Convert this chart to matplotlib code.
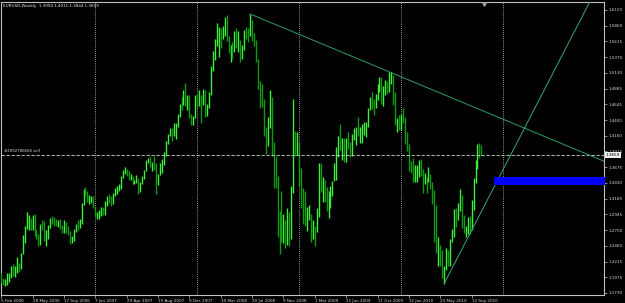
import matplotlib
matplotlib.use("Agg")
import matplotlib.pyplot as plt
import matplotlib.transforms as mtransforms
import numpy as np
import pandas as pd

# ---------------- data ----------------
symbol_title = "EURUSD,Weekly  1.3994 1.4011 1.3844 1.3859"
first_week = "2006-02-05"

highs = [
    # 2006
    1.2040, 1.1960, 1.1950, 1.2040, 1.2040, 1.2150, 1.2180, 1.2150, 1.2290, 1.2200,
    1.2350, 1.2630, 1.2760, 1.2980, 1.2940, 1.2890, 1.2940, 1.2950, 1.2700, 1.2640,
    1.2800, 1.2860, 1.2840, 1.2700, 1.2780, 1.2890, 1.2920, 1.2900, 1.2880, 1.2860,
    1.2870, 1.2780, 1.2860, 1.2820, 1.2770, 1.2690, 1.2610, 1.2720, 1.2800, 1.2860,
    1.2880, 1.3120, 1.3330, 1.3370, 1.3300, 1.3240, 1.3230, 1.3220,
    # 2007
    1.3080, 1.2980, 1.3010, 1.3060, 1.3060, 1.3150, 1.3230, 1.3260, 1.3220, 1.3270,
    1.3350, 1.3380, 1.3410, 1.3530, 1.3630, 1.3680, 1.3640, 1.3620, 1.3570, 1.3530,
    1.3480, 1.3550, 1.3510, 1.3450, 1.3530, 1.3630, 1.3790, 1.3810, 1.3850, 1.3760,
    1.3850, 1.3740, 1.3560, 1.3740, 1.3800, 1.3900, 1.4070, 1.4190, 1.4280, 1.4280,
    1.4350, 1.4350, 1.4500, 1.4650, 1.4750, 1.4870, 1.4970, 1.4780, 1.4780, 1.4500,
    1.4460, 1.4780,
    # 2008
    1.4800, 1.4860, 1.4780, 1.4880, 1.4860, 1.4650, 1.4830, 1.5240, 1.5460, 1.5650,
    1.5900, 1.5830, 1.5820, 1.5860, 1.5990, 1.6020, 1.5700, 1.5560, 1.5600, 1.5780,
    1.5820, 1.5770, 1.5640, 1.5560, 1.5790, 1.5840, 1.5820, 1.6038, 1.5950, 1.5740,
    1.5640, 1.5350, 1.5010, 1.4960, 1.4730, 1.4290, 1.4450, 1.4870, 1.4750, 1.4060,
    1.3850, 1.3530, 1.3000, 1.3300, 1.2950, 1.2860, 1.3040, 1.2980, 1.3380, 1.4719,
    1.4230, 1.4220,
    # 2009
    1.4060, 1.3660, 1.3350, 1.3300, 1.3060, 1.3090, 1.2950, 1.2850, 1.2770, 1.3050,
    1.3740, 1.3740, 1.3520, 1.3480, 1.3370, 1.3300, 1.3380, 1.3460, 1.3740, 1.3980,
    1.4160, 1.4340, 1.4120, 1.4120, 1.4130, 1.4220, 1.4060, 1.4180, 1.4280, 1.4300,
    1.4440, 1.4300, 1.4340, 1.4370, 1.4370, 1.4580, 1.4750, 1.4840, 1.4720, 1.4810,
    1.4960, 1.5060, 1.5060, 1.4930, 1.5020, 1.5010, 1.5144, 1.5140, 1.5100, 1.4830,
    1.4430, 1.4480,
    # 2010
    1.4490, 1.4580, 1.4450, 1.4210, 1.4030, 1.3770, 1.3820, 1.3700, 1.3700, 1.3780,
    1.3800, 1.3640, 1.3580, 1.3520, 1.3680, 1.3560, 1.3440, 1.3320, 1.3090, 1.2600,
    1.2470, 1.2400, 1.2140, 1.2420, 1.2390, 1.2570, 1.2720, 1.3030, 1.3050, 1.3120,
    1.3330, 1.3240, 1.2930, 1.2760, 1.2900, 1.2920, 1.3160, 1.3500, 1.3790, 1.4030,
    1.4040, 1.4011,
]

lows = [
    # 2006
    1.1880, 1.1860, 1.1840, 1.1850, 1.1900, 1.1960, 1.2000, 1.1980, 1.2040, 1.2060,
    1.2100, 1.2330, 1.2500, 1.2720, 1.2700, 1.2710, 1.2700, 1.2610, 1.2560, 1.2460,
    1.2470, 1.2710, 1.2530, 1.2460, 1.2570, 1.2730, 1.2790, 1.2770, 1.2760, 1.2750,
    1.2720, 1.2650, 1.2660, 1.2650, 1.2620, 1.2480, 1.2500, 1.2540, 1.2670, 1.2700,
    1.2740, 1.2800, 1.3090, 1.3220, 1.3130, 1.3100, 1.3120, 1.3040,
    # 2007
    1.2920, 1.2880, 1.2866, 1.2920, 1.2930, 1.2940, 1.3080, 1.3120, 1.3070, 1.3100,
    1.3230, 1.3260, 1.3300, 1.3340, 1.3500, 1.3570, 1.3530, 1.3470, 1.3480, 1.3410,
    1.3410, 1.3430, 1.3260, 1.3290, 1.3420, 1.3490, 1.3610, 1.3730, 1.3680, 1.3620,
    1.3630, 1.3260, 1.3390, 1.3550, 1.3590, 1.3700, 1.3840, 1.4030, 1.4150, 1.4070,
    1.4150, 1.4110, 1.4300, 1.4450, 1.4560, 1.4630, 1.4620, 1.4550, 1.4430, 1.4320,
    1.4320, 1.4430,
    # 2008
    1.4580, 1.4620, 1.4360, 1.4630, 1.4450, 1.4460, 1.4580, 1.4780, 1.5150, 1.5330,
    1.5550, 1.5370, 1.5520, 1.5650, 1.5700, 1.5620, 1.5440, 1.5290, 1.5350, 1.5450,
    1.5510, 1.5450, 1.5300, 1.5340, 1.5480, 1.5650, 1.5610, 1.5700, 1.5620, 1.5540,
    1.5300, 1.4880, 1.4580, 1.4600, 1.4150, 1.3880, 1.4000, 1.4280, 1.3850, 1.3350,
    1.3350, 1.2600, 1.2330, 1.2520, 1.2500, 1.2420, 1.2470, 1.2460, 1.2560, 1.3280,
    1.3840, 1.3860,
    # 2009
    1.3380, 1.3050, 1.2800, 1.2760, 1.2680, 1.2850, 1.2510, 1.2570, 1.2460, 1.2670,
    1.2910, 1.3290, 1.3130, 1.3130, 1.3000, 1.2890, 1.3040, 1.3220, 1.3460, 1.3470,
    1.3830, 1.3940, 1.3780, 1.3750, 1.3750, 1.3950, 1.3830, 1.3840, 1.4090, 1.4010,
    1.4150, 1.4040, 1.4040, 1.4170, 1.4140, 1.4300, 1.4550, 1.4570, 1.4480, 1.4580,
    1.4710, 1.4840, 1.4650, 1.4620, 1.4780, 1.4810, 1.4830, 1.4950, 1.4640, 1.4320,
    1.4220, 1.4240,
    # 2010
    1.4250, 1.4350, 1.4030, 1.3930, 1.3620, 1.3580, 1.3440, 1.3450, 1.3440, 1.3520,
    1.3530, 1.3270, 1.3410, 1.3270, 1.3450, 1.3330, 1.3110, 1.2520, 1.2350, 1.2140,
    1.2150, 1.1960, 1.1876, 1.2080, 1.2150, 1.2150, 1.2510, 1.2600, 1.2750, 1.2850,
    1.3000, 1.2740, 1.2660, 1.2588, 1.2640, 1.2640, 1.2700, 1.3010, 1.3430, 1.3650,
    1.3810, 1.3844,
]

closes = [
    # 2006
    1.1920, 1.1895, 1.1910, 1.1930, 1.2030, 1.2130, 1.2040, 1.2115, 1.2150, 1.2110,
    1.2340, 1.2530, 1.2740, 1.2830, 1.2890, 1.2760, 1.2885, 1.2620, 1.2600, 1.2560,
    1.2780, 1.2760, 1.2630, 1.2630, 1.2750, 1.2880, 1.2850, 1.2820, 1.2790, 1.2815,
    1.2765, 1.2690, 1.2820, 1.2680, 1.2670, 1.2525, 1.2580, 1.2700, 1.2775, 1.2760,
    1.2830, 1.3090, 1.3325, 1.3300, 1.3140, 1.3155, 1.3200, 1.3070,
    # 2007
    1.2940, 1.2940, 1.2980, 1.3030, 1.2950, 1.3130, 1.3210, 1.3170, 1.3120, 1.3250,
    1.3330, 1.3360, 1.3390, 1.3520, 1.3620, 1.3620, 1.3550, 1.3500, 1.3530, 1.3450,
    1.3450, 1.3505, 1.3300, 1.3435, 1.3500, 1.3620, 1.3780, 1.3810, 1.3690, 1.3760,
    1.3720, 1.3430, 1.3500, 1.3620, 1.3710, 1.3880, 1.4060, 1.4180, 1.4270, 1.4170,
    1.4310, 1.4320, 1.4480, 1.4640, 1.4630, 1.4820, 1.4630, 1.4650, 1.4430, 1.4370,
    1.4440, 1.4745,
    # 2008
    1.4700, 1.4780, 1.4700, 1.4830, 1.4500, 1.4630, 1.4800, 1.5180, 1.5350, 1.5630,
    1.5680, 1.5820, 1.5750, 1.5800, 1.5810, 1.5620, 1.5460, 1.5480, 1.5460, 1.5760,
    1.5530, 1.5620, 1.5380, 1.5490, 1.5770, 1.5720, 1.5700, 1.5930, 1.5710, 1.5600,
    1.5350, 1.4980, 1.4890, 1.4660, 1.4250, 1.4240, 1.4320, 1.4620, 1.4000, 1.3600,
    1.3440, 1.2770, 1.2680, 1.2620, 1.2660, 1.2560, 1.2960, 1.2740, 1.3310, 1.3980,
    1.3960, 1.3970,
    # 2009
    1.3440, 1.3180, 1.2960, 1.2800, 1.2830, 1.2880, 1.2660, 1.2670, 1.2660, 1.2930,
    1.3620, 1.3270, 1.3480, 1.3230, 1.3010, 1.3250, 1.3280, 1.3460, 1.3520, 1.3960,
    1.4150, 1.3910, 1.4000, 1.3930, 1.4030, 1.3960, 1.3940, 1.4110, 1.4210, 1.4250,
    1.4180, 1.4200, 1.4320, 1.4320, 1.4330, 1.4570, 1.4720, 1.4690, 1.4590, 1.4720,
    1.4900, 1.5010, 1.4720, 1.4850, 1.4960, 1.4870, 1.4990, 1.5020, 1.4750, 1.4360,
    1.4360, 1.4320,
    # 2010
    1.4410, 1.4390, 1.4140, 1.4000, 1.3660, 1.3630, 1.3610, 1.3620, 1.3620, 1.3770,
    1.3530, 1.3420, 1.3500, 1.3460, 1.3510, 1.3380, 1.3290, 1.2750, 1.2360, 1.2360,
    1.2270, 1.1960, 1.2110, 1.2390, 1.2230, 1.2560, 1.2640, 1.2940, 1.2900, 1.3050,
    1.3280, 1.2750, 1.2710, 1.2720, 1.2890, 1.2710, 1.3050, 1.3490, 1.3790, 1.3990,
    1.3960, 1.3859,
]
first_open = 1.2030

price_labels = ["1.1730", "1.1975", "1.2215", "1.2460", "1.2700", "1.2945", "1.3185",
                "1.3430", "1.3675", "1.3915", "1.4160", "1.4400", "1.4645", "1.4885",
                "1.5130", "1.5370", "1.5615", "1.5860", "1.6100"]
date_labels = ["5 Feb 2006", "28 May 2006", "17 Sep 2006", "7 Jan 2007", "29 Apr 2007",
               "19 Aug 2007", "9 Dec 2007", "30 Mar 2008", "20 Jul 2008", "9 Nov 2008",
               "1 Mar 2009", "21 Jun 2009", "11 Oct 2009", "31 Jan 2010", "23 May 2010",
               "12 Sep 2010"]
current_price = 1.3859
order_label = "#2092786658 sell"
resistance_pts = [(127, 1.6038), (198, 1.5144)]
support_pts = [(226, 1.1876), (237, 1.2520)]
zone_start, zone_low, zone_high = 251.5, 1.3400, 1.3520

# ---------------- figure ----------------
W, H = 625, 303
fig = plt.figure(figsize=(W / 100, H / 100), dpi=100)
fig.patch.set_facecolor("black")
ax = fig.add_axes([1 / W, 8 / H, 603 / W, 293 / H])
ax.set_facecolor("black")

n = len(closes)
idx = np.arange(n)
dates = pd.date_range(first_week, periods=n, freq="W-SUN")
xmin, xmax = -0.1, 307.55
ax.set_xlim(xmin, xmax)
ax.set_ylim(1.1699, 1.6223)

# yearly dotted grid
years = dates.year
year_starts = [i for i in range(1, n) if years[i] != years[i - 1]]
year_starts.append(year_starts[-1] + 52)
for ys in year_starts:
    ax.axvline(ys, color="#c8c8c8", lw=0.6, ls=(0, (1, 1.5)), zorder=1)

# bars
prev = np.concatenate([[first_open], closes[:-1]])
bar_colors = ["#3cf03c" if c >= p else "#129a12" for c, p in zip(closes, prev)]
ax.vlines(idx, lows, highs, colors=bar_colors, linewidths=1.0, zorder=3)

# current price / order line
ax.axhline(current_price, color="#c8dcc8", lw=0.6, ls=(0, (4, 2)), zorder=4)
ax.text(1.5, current_price + 0.003, order_label, color="#e0e0e0", fontsize=2.8,
        va="bottom", ha="left", zorder=5)

# trend lines (rays)
def ray(p0, p1, color):
    (x0, y0), (x1, y1) = p0, p1
    slope = (y1 - y0) / (x1 - x0)
    xe = 400
    ax.plot([x0, xe], [y0, y0 + slope * (xe - x0)], color=color, lw=0.7, zorder=5)

ray(*resistance_pts, "#2f9e6a")
ray(*support_pts, "#35a970")

# blue zone
ax.fill_between([zone_start, xmax + 5], zone_low, zone_high, color="#0000ff", lw=0, zorder=6)

# shift marker
trans = mtransforms.blended_transform_factory(ax.transData, ax.transAxes)
ax.plot([n + 0.5], [0.993], marker="v", ms=2.5, color="#a0a0a0", transform=trans,
        clip_on=False, zorder=7)

# axes styling
for s in ax.spines.values():
    s.set_color("#c0c0c0")
    s.set_linewidth(0.8)

ax.yaxis.tick_right()
ax.set_yticks([float(v) for v in price_labels])
ax.set_yticklabels(price_labels)
ax.tick_params(axis="y", direction="out", length=2, width=0.5, color="#c0c0c0",
               labelcolor="#d8d8d8", labelsize=3, pad=1.5)

tick_pos = [(pd.to_datetime(d, format="%d %b %Y") - dates[0]).days // 7
            for d in date_labels]
ax.set_xticks(tick_pos)
ax.set_xticklabels(date_labels)
for lbl in ax.get_xticklabels():
    lbl.set_ha("left")
ax.tick_params(axis="x", direction="out", length=2, width=0.5, color="#c0c0c0",
               labelcolor="#d8d8d8", labelsize=3, pad=1)

# current price box
ytrans = mtransforms.blended_transform_factory(ax.transAxes, ax.transData)
ax.text(1.003, current_price, f"{current_price:.4f}", transform=ytrans,
        fontsize=3, color="black", va="center", ha="left", zorder=10, clip_on=False,
        bbox=dict(boxstyle="square,pad=0.25", fc="#f0f0f0", ec="#f0f0f0", lw=0))

# title
ax.text(0.004, 0.992, symbol_title, transform=ax.transAxes, fontsize=3,
        color="#e8e8e8", va="top", ha="left", zorder=10)

fig.savefig("out.png", dpi=100, facecolor="black")
